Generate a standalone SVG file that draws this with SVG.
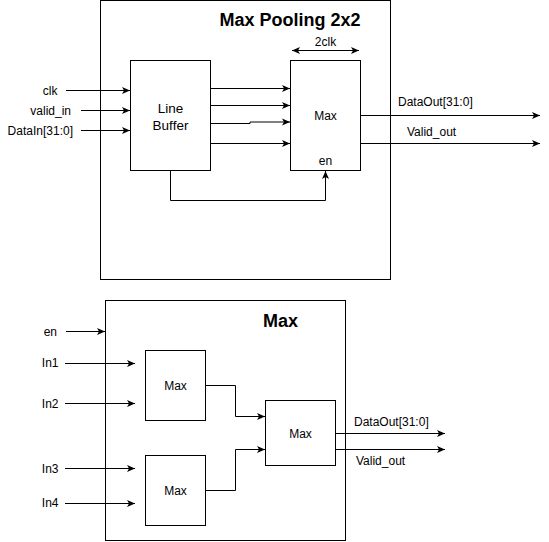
<svg xmlns="http://www.w3.org/2000/svg" width="549" height="542" viewBox="0 0 549 542">
<defs>
<marker id="arr" markerUnits="userSpaceOnUse" markerWidth="10" markerHeight="10" viewBox="0 0 10 10" refX="8" refY="4" orient="auto-start-reverse">
<path d="M0,0.5 L8,4 L0,7.5 L2,4 Z" fill="#000"/>
</marker>
</defs>
<style>
.box{fill:#fff;stroke:#000;stroke-width:1}
.ln{fill:none;stroke:#000;stroke-width:1}
.t{font-family:"Liberation Sans",Arial,sans-serif;font-size:12px;fill:#000}
.c{text-anchor:middle}
.e{text-anchor:end}
.b{font-weight:bold;font-size:18px}
</style>
<g id="maxpool">
<rect class="box" x="100.5" y="0.5" width="290" height="279"/>
<text class="t b" x="290" y="26" text-anchor="middle">Max Pooling 2x2</text>
</g>
<g id="linebuffer">
<rect class="box" x="130.5" y="60.5" width="80" height="110"/>
<text class="t c" x="170.5" y="113" style="font-size:13.5px">Line</text>
<text class="t c" x="170.5" y="130" style="font-size:13.5px">Buffer</text>
</g>
<g id="max-top">
<rect class="box" x="290.5" y="60.5" width="70" height="110"/>
<text class="t c" x="325.5" y="120">Max</text>
<text class="t c" x="325.5" y="165">en</text>
</g>
<g id="max-sub">
<rect class="box" x="105.5" y="300.5" width="240" height="240"/>
<text class="t b" x="280.5" y="327" text-anchor="middle">Max</text>
</g>
<g id="max1">
<rect class="box" x="145.5" y="350.5" width="60" height="70"/>
<text class="t c" x="175.5" y="390">Max</text>
</g>
<g id="max2">
<rect class="box" x="145.5" y="455.5" width="60" height="70"/>
<text class="t c" x="175.5" y="495">Max</text>
</g>
<g id="max3">
<rect class="box" x="265.5" y="400.5" width="70" height="65"/>
<text class="t c" x="300.5" y="438">Max</text>
</g>
<g id="labels">
<text class="t e" x="57.5" y="94.5">clk</text>
<text class="t e" x="71" y="114.5">valid_in</text>
<text class="t e" x="73" y="134.5">DataIn[31:0]</text>
<text class="t c" x="325.5" y="45.5">2clk</text>
<text class="t" x="398" y="106">DataOut[31:0]</text>
<text class="t" x="407" y="136">Valid_out</text>
<text class="t e" x="57" y="335.5">en</text>
<text class="t e" x="58.5" y="367">In1</text>
<text class="t e" x="58.5" y="407.5">In2</text>
<text class="t e" x="58.5" y="472.5">In3</text>
<text class="t e" x="58.5" y="507">In4</text>
<text class="t" x="354" y="425.5">DataOut[31:0]</text>
<text class="t" x="356" y="465">Valid_out</text>
</g>
<g id="connectors">
<path class="ln" d="M66,90.5 H130" marker-end="url(#arr)"/>
<path class="ln" d="M81,110.5 H130" marker-end="url(#arr)"/>
<path class="ln" d="M81,130.5 H130" marker-end="url(#arr)"/>
<path class="ln" d="M210.5,88.5 H290" marker-end="url(#arr)"/>
<path class="ln" d="M210.5,105.5 H290" marker-end="url(#arr)"/>
<path class="ln" d="M210.5,123.5 H250 V122 H290" marker-end="url(#arr)"/>
<path class="ln" d="M210.5,143.5 H290" marker-end="url(#arr)"/>
<path class="ln" d="M170.5,170.5 V200.5 H325.5 V171" marker-end="url(#arr)"/>
<path class="ln" d="M292,50.5 H359" marker-start="url(#arr)" marker-end="url(#arr)"/>
<path class="ln" d="M360.5,115.5 H540" marker-end="url(#arr)"/>
<path class="ln" d="M360.5,143.5 H540" marker-end="url(#arr)"/>
<path class="ln" d="M66,331.5 H105" marker-end="url(#arr)"/>
<path class="ln" d="M65,363.5 H135" marker-end="url(#arr)"/>
<path class="ln" d="M65,403.5 H135" marker-end="url(#arr)"/>
<path class="ln" d="M65,468.5 H135" marker-end="url(#arr)"/>
<path class="ln" d="M65,503.5 H135" marker-end="url(#arr)"/>
<path class="ln" d="M205.5,385.5 H235.5 V416.5 H265" marker-end="url(#arr)"/>
<path class="ln" d="M205.5,490.5 H235.5 V449.5 H265" marker-end="url(#arr)"/>
<path class="ln" d="M335.5,433.5 H445" marker-end="url(#arr)"/>
<path class="ln" d="M335.5,449.5 H445" marker-end="url(#arr)"/>
</g>
</svg>
